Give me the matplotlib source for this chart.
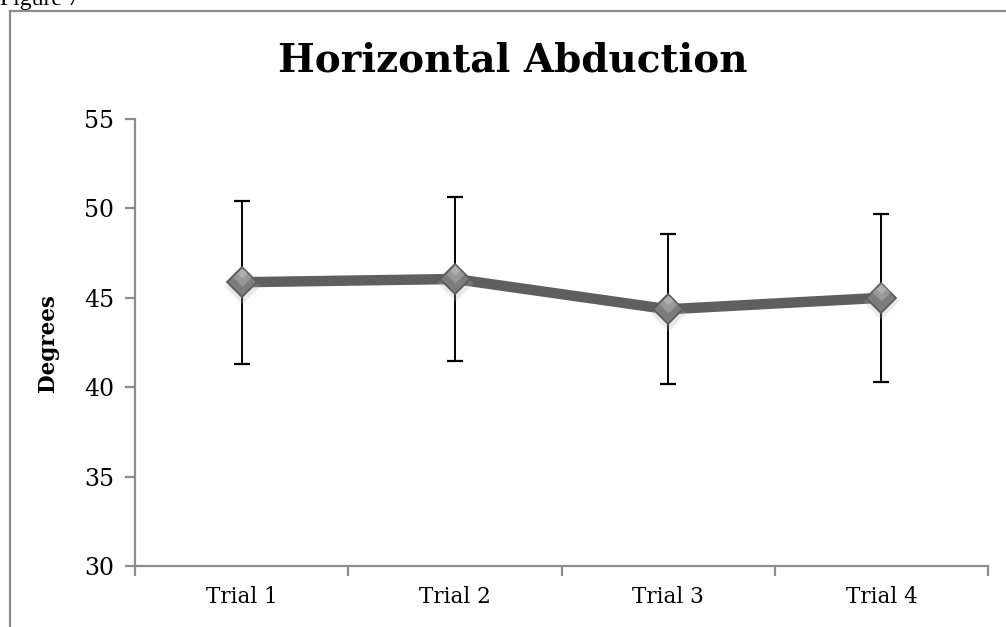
import matplotlib
matplotlib.use("Agg")
import matplotlib.pyplot as plt
from matplotlib.lines import Line2D
from matplotlib.ticker import FixedLocator, NullFormatter

categories = ["Trial 1", "Trial 2", "Trial 3", "Trial 4"]
means = [45.87, 46.05, 44.36, 45.0]
errors = [4.55, 4.58, 4.2, 4.7]
yticks = [30, 35, 40, 45, 50, 55]

W, H = 1006, 627
fig = plt.figure(figsize=(W / 100, H / 100), dpi=100)
fig.patch.set_facecolor("white")

serif = ["DejaVu Serif"]

# outer frame (chart box)
fx0, fy0 = 9.5 / W, 1 - 10.5 / H
fig.add_artist(Line2D([fx0, fx0], [0, fy0], transform=fig.transFigure, color="#8c8c8c", lw=1.6))
fig.add_artist(Line2D([fx0, 1.0], [fy0, fy0], transform=fig.transFigure, color="#8c8c8c", lw=1.6))

# "Figure 7" caption cut at top
fig.text(0.0, 1 - 5 / H, "Figure 7", family="Liberation Serif", fontsize=17,
         ha="left", va="baseline", color="black")

left, right = 135 / W, 988 / W
bottom, top = 1 - 566.3 / H, 1 - 118.8 / H
ax = fig.add_axes([left, bottom, right - left, top - bottom])

x = list(range(len(categories)))
ax.set_xlim(-0.5, len(categories) - 0.5)
ax.set_ylim(yticks[0], yticks[-1])

# line
ax.plot(x, means, color="#5f5f5f", lw=7.5, solid_capstyle="butt", zorder=2)
# error bars
ax.errorbar(x, means, yerr=errors, fmt="none", ecolor="black", elinewidth=1.4,
            capsize=6, capthick=1.6, zorder=3)
# soft marker shadow
for ms, a in [(19, 0.12), (17, 0.18)]:
    ax.plot(x, [m - 0.2 for m in means], ls="none", marker="D",
            markersize=ms, markerfacecolor="#b0b0b0", markeredgecolor="none", alpha=a, zorder=3.5)
# markers (gradient imitation)
ax.plot(x, means, ls="none", marker="D", markersize=15, markerfacecolor="#7c7c7c",
        markeredgecolor="#5c5c5c", markeredgewidth=1.3, zorder=4)
ax.plot(x, [m + 0.3 for m in means], ls="none", marker="D", markersize=9,
        markerfacecolor="#a4a4a4", markeredgecolor="none", alpha=0.7, zorder=4.5)
ax.plot(x, [m + 0.5 for m in means], ls="none", marker="D", markersize=5,
        markerfacecolor="#b8b8b8", markeredgecolor="none", alpha=0.7, zorder=4.6)

for s in ["top", "right"]:
    ax.spines[s].set_visible(False)
for s in ["left", "bottom"]:
    ax.spines[s].set_color("#8c8c8c")
    ax.spines[s].set_linewidth(1.6)

ax.set_yticks(yticks)
ax.set_yticklabels([str(v) for v in yticks], family=serif, fontsize=17)
ax.tick_params(axis="y", direction="out", length=7, width=1.6, color="#8c8c8c", pad=8)

ax.set_xticks(x)
ax.set_xticklabels(categories, family=serif, fontsize=15.5)
ax.tick_params(axis="x", which="major", length=0, pad=14)
ax.xaxis.set_minor_locator(FixedLocator([i - 0.5 for i in range(len(categories) + 1)]))
ax.xaxis.set_minor_formatter(NullFormatter())
ax.tick_params(axis="x", which="minor", direction="out", length=7, width=1.6, color="#8c8c8c")

ax.set_ylabel("Degrees", family=serif, fontsize=15.5, fontweight="bold", labelpad=10)
ax.yaxis.set_label_coords(-76 / (988 - 135), (566.3 - 343) / (566.3 - 118.8))

fig.text((277 + 748) / 2 / W, 1 - 60 / H, "Horizontal Abduction", family=serif,
         fontsize=28, fontweight="bold", ha="center", va="center")

fig.savefig("out.png", dpi=100)
